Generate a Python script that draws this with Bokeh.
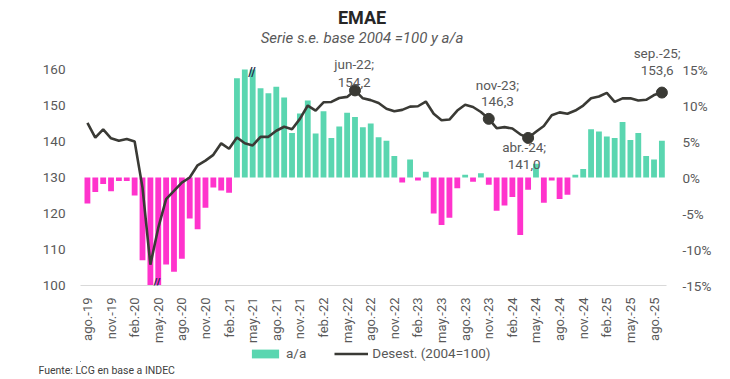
import math
from bokeh.plotting import figure
from bokeh.layouts import column
from bokeh.models import (Range1d, LinearAxis, FixedTicker, Label, Legend,
                          LegendItem, ColumnDataSource, Title)
from bokeh.embed import file_html
from bokeh.resources import INLINE

# ---------------- data ----------------
months = ["ago.-19", "sep.-19", "oct.-19", "nov.-19", "dic.-19",
          "ene.-20", "feb.-20", "mar.-20", "abr.-20", "may.-20", "jun.-20", "jul.-20",
          "ago.-20", "sep.-20", "oct.-20", "nov.-20", "dic.-20",
          "ene.-21", "feb.-21", "mar.-21", "abr.-21", "may.-21", "jun.-21", "jul.-21",
          "ago.-21", "sep.-21", "oct.-21", "nov.-21", "dic.-21",
          "ene.-22", "feb.-22", "mar.-22", "abr.-22", "may.-22", "jun.-22", "jul.-22",
          "ago.-22", "sep.-22", "oct.-22", "nov.-22", "dic.-22",
          "ene.-23", "feb.-23", "mar.-23", "abr.-23", "may.-23", "jun.-23", "jul.-23",
          "ago.-23", "sep.-23", "oct.-23", "nov.-23", "dic.-23",
          "ene.-24", "feb.-24", "mar.-24", "abr.-24", "may.-24", "jun.-24", "jul.-24",
          "ago.-24", "sep.-24", "oct.-24", "nov.-24", "dic.-24",
          "ene.-25", "feb.-25", "mar.-25", "abr.-25", "may.-25", "jun.-25", "jul.-25",
          "ago.-25", "sep.-25"]

# a/a (%), right axis
yoy = [-3.6, -2.0, -0.9, -1.9, -0.5,
       -0.5, -2.5, -11.5, -25.4, -20.0, -12.1, -13.1,
       -11.3, -5.7, -7.2, -4.2, -1.4,
       -1.8, -2.1, 13.8, 29.6, 16.0, 12.4, 11.7,
       12.6, 11.1, 6.2, 8.9, 10.7,
       6.1, 9.2, 5.5, 7.1, 9.0, 8.4, 7.0,
       7.5, 5.6, 5.1, 3.0, -0.7,
       2.5, -0.4, 0.8, -5.0, -6.6, -5.6, -1.5,
       0.4, -0.6, 0.6, -1.0, -4.6,
       -3.9, -2.7, -8.0, -1.7, 1.9, -3.5, -0.4,
       -3.0, -2.4, 0.4, 1.2, 6.7,
       6.4, 5.7, 5.5, 7.7, 5.2, 6.2, 3.0,
       2.5, 5.1]

# Desest. (2004=100), left axis
desest = [145.2, 141.1, 143.4, 140.9, 140.2,
          140.7, 140.0, 127.2, 105.8, 116.0, 124.0, 126.3,
          128.6, 130.0, 133.4, 134.7, 136.3,
          139.5, 138.0, 141.1, 139.5, 138.9, 141.3, 141.3,
          143.0, 144.1, 143.4, 146.3, 150.0,
          148.6, 150.9, 151.0, 152.1, 152.4, 154.2, 152.0,
          151.5, 150.7, 149.1, 148.4, 148.8,
          149.7, 149.8, 151.1, 147.7, 145.9, 146.1, 148.6,
          150.2, 149.6, 148.2, 146.3, 143.7,
          144.0, 143.6, 142.0, 141.0, 142.7, 144.3, 147.3,
          148.1, 147.7, 148.6, 150.0, 152.0,
          152.5, 153.5, 151.0, 152.0, 152.0, 151.4, 151.6,
          152.9, 153.6]

tick_labels = ["ago.-19", "nov.-19", "feb.-20", "may.-20", "ago.-20", "nov.-20",
               "feb.-21", "may.-21", "ago.-21", "nov.-21", "feb.-22", "may.-22",
               "ago.-22", "nov.-22", "feb.-23", "may.-23", "ago.-23", "nov.-23",
               "feb.-24", "may.-24", "ago.-24", "nov.-24", "feb.-25", "may.-25",
               "ago.-25"]
left_ticks = [100, 110, 120, 130, 140, 150, 160]
right_ticks = [-15, -10, -5, 0, 5, 10, 15]
right_tick_labels = ["-15%", "-10%", "-5%", "0%", "5%", "10%", "15%"]
pct_limit = 15  # bars beyond +-15% are cut (axis break marks)

hl_months = ["jun.-22", "nov.-23", "abr.-24", "sep.-25"]
hl_line1 = ["jun-22;", "nov-23;", "abr.-24;", "sep.-25;"]
hl_line2 = ["154,2", "146,3", "141,0", "153,6"]

# ---------------- styling ----------------
POS = "#5ad6b0"
NEG = "#ff33cc"
LINE = "#3a3a35"
TXT = "#595959"
FONT = "Roboto"

x = list(range(len(months)))
colors = [POS if v >= 0 else NEG for v in yoy]
bar_top = [max(-pct_limit, min(pct_limit, v)) for v in yoy]
src = ColumnDataSource(dict(x=x, yoy=yoy, bar_top=bar_top, desest=desest,
                            color=colors))

# main chart: frame spans page x 80..692, y 0..289 (160 at y=70, 100 at y=289)
p = figure(width=714, height=345, output_backend="svg", toolbar_location=None,
           x_range=Range1d(-0.88, 76.0), y_range=Range1d(100, 179.18),
           min_border_left=80, min_border_right=22, min_border_top=0,
           min_border_bottom=56, title=None)
p.extra_y_ranges = {"pct": Range1d(-15, 24.59)}
p.outline_line_color = None
p.xgrid.visible = False
p.ygrid.visible = False
p.background_fill_color = "white"
p.border_fill_color = "white"

bars = p.vbar(x="x", top="bar_top", bottom=0, width=0.74, fill_color="color",
              line_color=None, y_range_name="pct", source=src)
line = p.line(x="x", y="desest", line_color=LINE, line_width=2.6, source=src)

hl_idx = [months.index(m) for m in hl_months]
p.scatter([x[i] for i in hl_idx], [desest[i] for i in hl_idx], size=11,
          fill_color=LINE, line_color=LINE)

# axes
xa = p.xaxis[0]
xa.ticker = FixedTicker(ticks=[months.index(t) for t in tick_labels])
xa.major_label_overrides = {months.index(t): t for t in tick_labels}
xa.major_label_orientation = math.pi / 2
xa.major_tick_line_color = None
xa.minor_tick_line_color = None
xa.axis_line_color = "#d9d9d9"
xa.bounds = (-0.88, 73.6)
xa.major_label_text_font = FONT
xa.major_label_text_font_size = "13px"
xa.major_label_text_color = TXT
xa.major_label_standoff = 6

ya = p.yaxis[0]
ya.ticker = FixedTicker(ticks=left_ticks)
ya.major_tick_line_color = None
ya.minor_tick_line_color = None
ya.axis_line_color = None
ya.major_label_text_font = FONT
ya.major_label_text_font_size = "13.5px"
ya.major_label_text_color = TXT
ya.major_label_standoff = 9

ra = LinearAxis(y_range_name="pct", ticker=FixedTicker(ticks=right_ticks))
ra.major_label_overrides = dict(zip(right_ticks, right_tick_labels))
ra.major_tick_line_color = None
ra.minor_tick_line_color = None
ra.axis_line_color = None
ra.major_label_text_font = FONT
ra.major_label_text_font_size = "13.5px"
ra.major_label_text_color = TXT
ra.major_label_standoff = -9
p.add_layout(ra, "right")

# point labels
lab_pos = [(33.9, 161.4, 156.4), (52.1, 155.6, 151.0),
           (55.5, 138.6, 133.7), (72.4, 164.7, 159.7)]
for (lx, ly1, ly2), t1, t2 in zip(lab_pos, hl_line1, hl_line2):
    for ly, t in ((ly1, t1), (ly2, t2)):
        p.add_layout(Label(x=lx, y=ly, text=t, text_align="center",
                           text_baseline="middle", text_font=FONT,
                           text_font_size="13.5px", text_color=TXT))

# axis break marks
for bx, by in ((20.9, 159.2), (8.8, 100.6)):
    p.add_layout(Label(x=bx, y=by, text="//", text_align="center",
                       text_baseline="middle", text_font=FONT,
                       text_font_size="12px", text_font_style="bold",
                       text_color="#1f2d4d"))

# title / subtitle
p.add_layout(Label(x=34.9, y=174.5, text="EMAE", text_align="center",
                   text_baseline="middle", text_font=FONT,
                   text_font_size="18px", text_font_style="bold",
                   text_color="#262626"))
p.add_layout(Label(x=34.9, y=168.8, text="Serie s.e. base 2004 =100 y a/a",
                   text_align="center", text_baseline="middle", text_font=FONT,
                   text_font_size="15px", text_font_style="italic",
                   text_color=TXT))

# ---------------- bottom strip: legend + source ----------------
# its frame is aligned with the main frame (page x 80..692); x units = page px
p2 = figure(width=714, height=31, output_backend="svg", toolbar_location=None,
            x_range=Range1d(80, 692), y_range=Range1d(1000, 1017),
            x_axis_type=None, y_axis_type=None, min_border_left=80,
            min_border_right=22, min_border_top=0, min_border_bottom=14,
            title=None)
p2.outline_line_color = None
p2.xgrid.visible = False
p2.ygrid.visible = False
p2.border_fill_color = "white"
p2.background_fill_color = "white"

# legend proxies share the chart data; they fall outside this strip's view
leg_bar = p2.vbar(x="x", top="bar_top", bottom=0, width=0.74,
                  fill_color="color", line_color=None, source=src)
leg_line = p2.line(x="x", y="desest", line_color=LINE, line_width=2.6,
                   source=src)

legend = Legend(items=[LegendItem(label="a/a", renderers=[leg_bar], index=19),
                       LegendItem(label="Desest. (2004=100)", renderers=[leg_line])],
                orientation="horizontal", location=(168, 0), margin=0,
                padding=0, spacing=28, glyph_width=34, glyph_height=11,
                label_standoff=4, background_fill_alpha=0,
                border_line_color=None, label_text_font=FONT,
                label_text_font_size="13.5px", label_text_color=TXT)
p2.add_layout(legend)

p2.add_layout(Title(text="Fuente: LCG en base a INDEC", align="left", offset=-42,
                    standoff=0, text_font=FONT, text_font_size="10.5px",
                    text_font_style="normal", text_color="#404040"), "below")

layout = column(p, p2, spacing=0)
open("out.html", "w").write(file_html(layout, INLINE))
